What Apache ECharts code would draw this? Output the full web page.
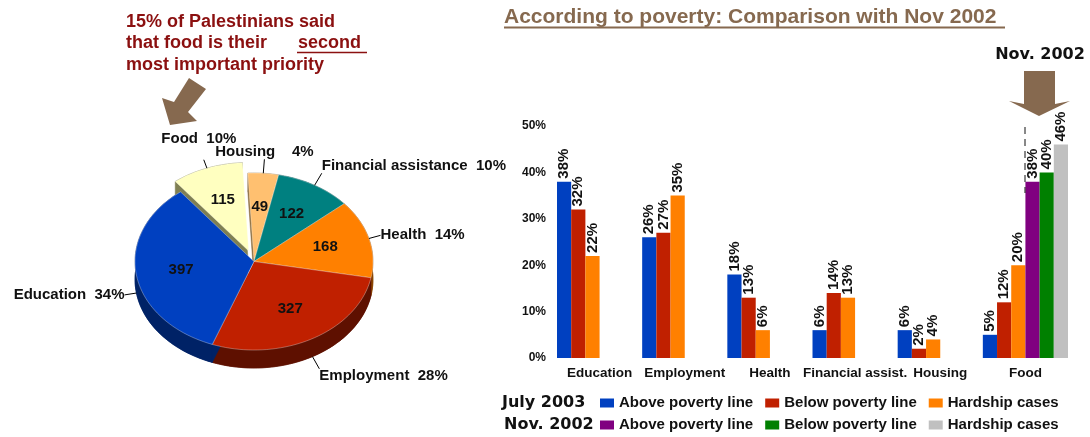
<!DOCTYPE html>
<html><head><meta charset="utf-8">
<script src="https://cdn.jsdelivr.net/npm/echarts@6/dist/echarts.min.js"></script>
<style>html,body{margin:0;padding:0;background:#fff}#c{width:1090px;height:437px}</style>
</head><body><div id="c"></div>
<script>
// ---------- data ----------
const pieNames = ['Housing', 'Financial assistance', 'Health', 'Employment', 'Education', 'Food'];
const pieValues = [49, 122, 168, 327, 397, 115];

const categories = ['Education', 'Employment', 'Health', 'Financial assist.', 'Housing', 'Food'];
const july2003Above = [38, 26, 18, 6, 6, 5];
const july2003Below = [32, 27, 13, 14, 2, 12];
const july2003Hardship = [22, 35, 6, 13, 4, 20];
const nov2002Above = [null, null, null, null, null, 38];
const nov2002Below = [null, null, null, null, null, 40];
const nov2002Hardship = [null, null, null, null, null, 46];
const seriesGroups = ['July 2003', 'Nov. 2002'];
const seriesKinds = ['Above poverty line', 'Below poverty line', 'Hardship cases'];

// ---------- styles ----------
const FF = '"Liberation Sans", Arial, sans-serif';
const pieTopColors = ['#FFC070', '#008080', '#FF8000', '#C02000', '#0040C0', '#FFFFC0'];
const pieSideColors = ['#8a6a3a', '#004545', '#8a4500', '#5e1000', '#002266', '#7f7f52'];
const pieExplode = [0, 0, 0, 0, 0, 1];
const pieLabelAlign = ['center', 'left', 'left', 'left', 'right', 'center'];
const pieLabelVAlign = ['bottom', 'bottom', 'middle', 'top', 'middle', 'bottom'];
const pieLeaderLen = [14, 14, 12, 14, 12, 9];
const pieLabelGap = [0, 0, 0, 0, 0, 14];
const pieLabelSep = ['    ', '  ', '  ', '  ', '  ', '  '];
const barColors = ['#0040C0', '#C02000', '#FF8000', '#800080', '#008000', '#C0C0C0'];
const K = 0.744, DEPTH = 18, EXPLODE = 15;

const total = pieValues.reduce((a, b) => a + b, 0);
const starts = [];
let acc = 0;
pieValues.forEach(v => { starts.push(acc); acc += v; });
const pieData = pieValues.map((v, i) => ({ name: pieNames[i], value: [1, starts[i], starts[i] + v, v] }));

function pieGeom(params, api) {
  const cs = params.coordSys, cx = cs.cx, cy = cs.cy, R = cs.r;
  const i = params.dataIndex;
  const a0 = api.value(1), a1 = api.value(2);
  const m = api.coord([1, (a0 + a1) / 2]);
  const ux = (m[0] - cx) / R, uy = (m[1] - cy) / R;
  const ex = pieExplode[i] ? ux * EXPLODE : 0, ey = pieExplode[i] ? uy * EXPLODE * K : 0;
  const arc = [];
  const n = Math.max(3, Math.ceil((a1 - a0) / total * 160));
  for (let j = 0; j <= n; j++) {
    const c = api.coord([1, a0 + (a1 - a0) * j / n]);
    arc.push([c[0] + ex, cy + (c[1] - cy) * K + ey]);
  }
  return { cx, cy, R, i, ux, uy, ex, ey, arc, center: [cx + ex, cy + ey] };
}

const julyData = [july2003Above, july2003Below, july2003Hardship];
const novData = [nov2002Above, nov2002Below, nov2002Hardship];
const barSeries = [];
[julyData, novData].forEach((grp, g) => {
  grp.forEach((arr, k) => {
    barSeries.push({
      type: 'bar', name: seriesGroups[g] + '|' + seriesKinds[k],
      xAxisIndex: 0, yAxisIndex: 0, data: arr,
      barGap: '0%', barCategoryGap: '0%',
      itemStyle: { color: barColors[g * 3 + k] },
      label: { show: true, position: 'top', rotate: 90, align: 'left', verticalAlign: 'middle',
        distance: 3, formatter: '{c}%', fontSize: 15, fontWeight: 'bold', color: '#111', fontFamily: FF },
      silent: true
    });
  });
});

const chart = echarts.init(document.getElementById('c'), null, { renderer: 'canvas' });
const legendBase = {
  orient: 'horizontal', left: 600, itemWidth: 14, itemHeight: 9, itemGap: 12, icon: 'rect',
  selectedMode: false, padding: 0,
  formatter: n => n.split('|')[1],
  textStyle: { fontSize: 15, fontWeight: 'bold', color: '#111', fontFamily: FF, lineHeight: 16 }
};
const option = {
  animation: false,
  backgroundColor: '#fff',
  legend: [
    Object.assign({}, legendBase, { top: 395, data: seriesKinds.map(k => seriesGroups[0] + '|' + k) }),
    Object.assign({}, legendBase, { top: 417, data: seriesKinds.map(k => seriesGroups[1] + '|' + k) })
  ],
  grid: { left: 557, right: 22, top: 126, bottom: 79 },
  xAxis: {
    type: 'category', data: categories,
    axisLine: { show: false }, axisTick: { show: false },
    axisLabel: { margin: 8, fontSize: 13.5, fontWeight: 'bold', color: '#111', fontFamily: FF, interval: 0 }
  },
  yAxis: {
    type: 'value', min: 0, max: 50, interval: 10,
    axisLine: { show: false }, axisTick: { show: false }, splitLine: { show: false },
    axisLabel: { margin: 11, formatter: '{value}%', fontSize: 12, fontWeight: 'bold', color: '#111', fontFamily: FF }
  },
  polar: { center: [254, 261.5], radius: 119 },
  angleAxis: { type: 'value', min: 0, max: total, startAngle: 93, clockwise: true, show: false },
  radiusAxis: { type: 'value', min: 0, max: 1, show: false },
  series: barSeries.concat([
    {
      type: 'custom', coordinateSystem: 'polar', z: 2, silent: true, data: pieData,
      renderItem: (params, api) => {
        const g = pieGeom(params, api);
        const shifted = g.arc.map(p => [p[0], p[1] + DEPTH]);
        const sector = [[g.center[0], g.center[1] + DEPTH]].concat(shifted);
        const band = g.arc.concat(shifted.slice().reverse());
        const col = pieSideColors[g.i];
        return { type: 'group', children: [
          { type: 'polygon', shape: { points: sector }, style: { fill: col, stroke: col, lineWidth: 0.5 } },
          { type: 'polygon', shape: { points: band }, style: { fill: col, stroke: col, lineWidth: 0.5 } }
        ] };
      }
    },
    {
      type: 'custom', coordinateSystem: 'polar', z: 3, silent: true, data: pieData,
      renderItem: (params, api) => {
        const g = pieGeom(params, api);
        return { type: 'polygon', shape: { points: [g.center].concat(g.arc) },
          style: { fill: pieTopColors[g.i], stroke: 'rgba(255,255,255,0.45)', lineWidth: 0.7 } };
      }
    },
    {
      type: 'custom', coordinateSystem: 'polar', z: 4, silent: true, data: pieData,
      renderItem: (params, api) => {
        const g = pieGeom(params, api);
        const i = g.i;
        const sx = g.cx + g.ux * g.R + g.ex;
        const sy = g.cy + g.uy * g.R * K + g.ey + (g.uy > 0 ? DEPTH : 0);
        const L = pieLeaderLen[i];
        const exx = sx + g.ux * L, eyy = sy + g.uy * L;
        const tx = exx + g.ux * pieLabelGap[i], ty = eyy + g.uy * pieLabelGap[i];
        const pct = Math.round(pieValues[i] / total * 100);
        const vx = g.cx + g.ux * g.R * 0.62 + g.ex, vy = g.cy + g.uy * g.R * 0.62 * K + g.ey;
        return { type: 'group', children: [
          { type: 'line', shape: { x1: sx, y1: sy, x2: exx, y2: eyy }, style: { stroke: '#000', lineWidth: 1 } },
          { type: 'text', x: tx, y: ty, style: { text: pieNames[i] + pieLabelSep[i] + pct + '%',
              fontSize: 15, fontWeight: 'bold', fontFamily: FF, fill: '#111',
              align: pieLabelAlign[i], verticalAlign: pieLabelVAlign[i] } },
          { type: 'text', x: vx, y: vy, style: { text: String(pieValues[i]),
              fontSize: 15, fontWeight: 'bold', fontFamily: FF, fill: '#111',
              align: 'center', verticalAlign: 'middle' } }
        ] };
      }
    }
  ]),
  graphic: [
    { type: 'text', x: 126, y: 22, style: { text: '15% of Palestinians said', fontSize: 18, fontWeight: 'bold', fontFamily: FF, fill: '#8B1010', align: 'left', verticalAlign: 'middle' } },
    { type: 'text', x: 126, y: 43.5, style: { text: 'that food is their', fontSize: 18, fontWeight: 'bold', fontFamily: FF, fill: '#8B1010', align: 'left', verticalAlign: 'middle' } },
    { type: 'text', x: 298, y: 43.5, style: { text: 'second', fontSize: 18, fontWeight: 'bold', fontFamily: FF, fill: '#8B1010', align: 'left', verticalAlign: 'middle' } },
    { type: 'line', shape: { x1: 297, y1: 52.5, x2: 367, y2: 52.5 }, style: { stroke: '#8B1010', lineWidth: 1.6 } },
    { type: 'text', x: 126, y: 65, style: { text: 'most important priority', fontSize: 18, fontWeight: 'bold', fontFamily: FF, fill: '#8B1010', align: 'left', verticalAlign: 'middle' } },
    { type: 'polygon', shape: { points: [[206, 89], [189, 78], [174, 102], [162, 98], [170, 125], [197, 121], [188, 112]] }, style: { fill: '#86694F' } },
    { type: 'text', x: 504, y: 17, style: { text: 'According to poverty: Comparison with Nov 2002', fontSize: 21, fontWeight: 'bold', fontFamily: FF, fill: '#86694F', align: 'left', verticalAlign: 'middle' } },
    { type: 'line', shape: { x1: 504, y1: 27.5, x2: 1005, y2: 27.5 }, style: { stroke: '#86694F', lineWidth: 1.8 } },
    { type: 'text', x: 1040, y: 55, style: { text: 'Nov. 2002', fontSize: 16, fontWeight: 'bold', fontFamily: '"DejaVu Sans", sans-serif', fill: '#111', align: 'center', verticalAlign: 'middle' } },
    { type: 'polygon', shape: { points: [[1024, 71], [1055, 71], [1055, 104], [1070, 101], [1039, 116], [1009, 101], [1024, 104]] }, style: { fill: '#86694F' } },
    { type: 'line', shape: { x1: 1025, y1: 127, x2: 1025, y2: 193 }, style: { stroke: '#111', lineWidth: 1, lineDash: [7, 5] }, z: 100 },
    { type: 'text', x: 502, y: 403, style: { text: 'July 2003', fontSize: 16, fontWeight: 'bold', fontFamily: '"DejaVu Sans", sans-serif', fill: '#111', align: 'left', verticalAlign: 'middle' } },
    { type: 'text', x: 504, y: 425, style: { text: 'Nov. 2002', fontSize: 16, fontWeight: 'bold', fontFamily: '"DejaVu Sans", sans-serif', fill: '#111', align: 'left', verticalAlign: 'middle' } }
  ]
};
chart.setOption(option);
</script>
</body></html>
